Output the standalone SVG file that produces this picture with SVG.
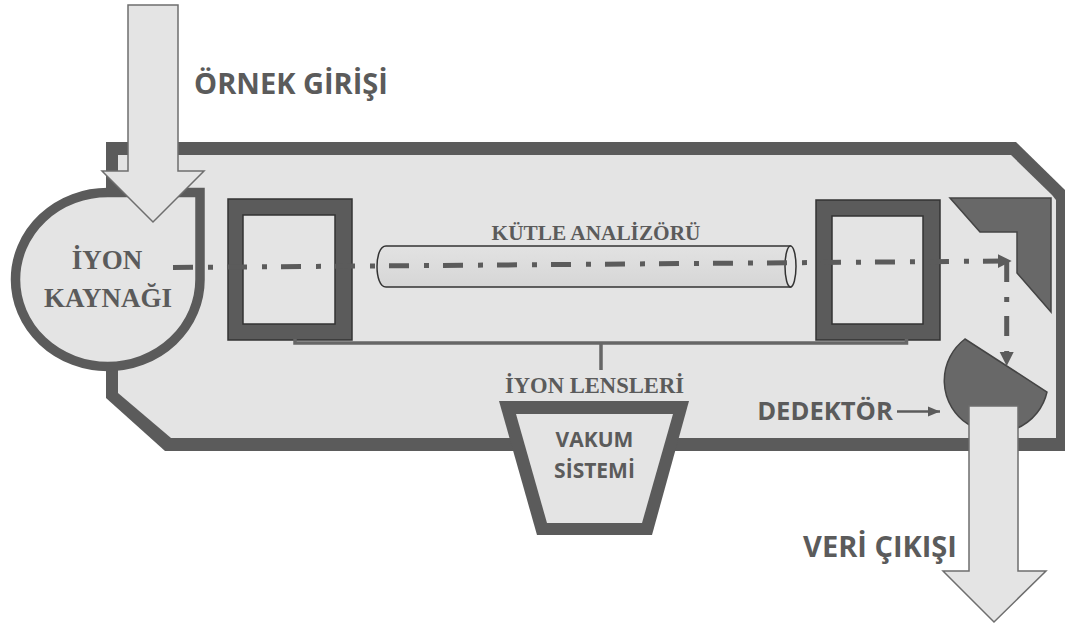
<svg xmlns="http://www.w3.org/2000/svg" width="1065" height="625" viewBox="0 0 1065 625">
<style>
.w{fill:#e4e4e4;stroke:#5b5b5b;stroke-linejoin:miter}
.box{fill:#5b5b5b;stroke:#333;stroke-width:1.5}
.in{fill:#e4e4e4;stroke:#333;stroke-width:1.5}
.ar{fill:#e4e4e4;stroke:#6e6e6e;stroke-width:1.5}
.dk{fill:#686868;stroke:#444;stroke-width:1.5}
.s{font-family:"Liberation Serif",serif;font-weight:bold;fill:#5b5b5b;text-anchor:middle}
.a{font-family:"Open Sans","Liberation Sans",sans-serif;font-weight:bold;fill:#5b5b5b;text-anchor:middle}
.c{fill:none;stroke:#5b5b5b;stroke-width:5}
</style>
<defs>
<marker id="h" markerUnits="userSpaceOnUse" markerWidth="16" markerHeight="16" refX="14" refY="8" orient="auto"><path d="M0 1L14 8L0 15Z" fill="#5b5b5b"/></marker>
<marker id="h2" markerUnits="userSpaceOnUse" markerWidth="14" markerHeight="12" refX="12" refY="6" orient="auto"><path d="M0 1L12 6L0 11Z" fill="#5b5b5b"/></marker>
<linearGradient id="tube" x1="0" y1="0" x2="0" y2="1"><stop offset="0" stop-color="#e2e2e2"/><stop offset="1" stop-color="#d6d6d6"/></linearGradient>
</defs>
<g id="body"><path d="M106 142H1016L1065 190V451H165L106 398Z" fill="#5b5b5b"/><path d="M118 155H1011L1052 195L1056 200V438H171L118 393Z" fill="#e4e4e4"/></g>
<g id="ion-source"><path class="w" stroke-width="9.500" d="M200 192.500V279.500A92.250 87 0 1 1 107.750 192.500Z"/><text class="s" x="107" y="269" font-size="27">İYON</text><text class="s" x="108" y="307" font-size="27">KAYNAĞI</text></g>
<g id="sample-in"><path class="ar" d="M128 5H178V171H204L153 222L102 171H128Z"/><text class="a" x="291" y="94" font-size="29">ÖRNEK GİRİŞİ</text></g>
<g id="lens-left"><rect class="box" x="228" y="199" width="124" height="141"/><rect class="in" x="243" y="215" width="92" height="109"/></g>
<g id="lens-right"><rect class="box" x="816" y="200" width="124" height="140"/><rect class="in" x="832" y="216" width="91" height="108"/></g>
<g id="analyzer"><path d="M386 246H790.500V287H386C380 287 377 277 377 266.500C377 256 380 246 386 246Z" fill="url(#tube)" stroke="#333" stroke-width="1.500"/><ellipse cx="790.500" cy="266.500" rx="5.500" ry="20.500" fill="#e4e4e4" stroke="#333" stroke-width="1.500"/><text class="s" x="596" y="240" font-size="21.300">KÜTLE ANALİZÖRÜ</text></g>
<g id="ion-lenses"><path d="M295 339V343H906.500V339M601 343V370" fill="none" stroke="#666" stroke-width="3.500"/><text class="s" x="594.500" y="393" font-size="23" textLength="179" lengthAdjust="spacingAndGlyphs">İYON LENSLERİ</text></g>
<g id="vacum"><path d="M499 401H689L652 535H537Z" fill="#5b5b5b"/><path d="M516 414H673L642 523H547Z" fill="#e4e4e4"/><text class="a" x="594.500" y="447" font-size="21">VAKUM</text><text class="a" x="594.500" y="478" font-size="21">SİSTEMİ</text></g>
<g id="mirror"><path class="dk" d="M950 198H1051V312L1017 273V232H980Z"/></g>
<g id="detector"><path class="dk" d="M965 339A52 52 0 1 0 1047 392Z"/><text class="a" x="825" y="420" font-size="25.600">DEDEKTÖR</text></g>
<g id="data-out"><path class="ar" d="M969 406H1018V571H1046L994 622L943 571H969Z"/><text class="a" x="880" y="557" font-size="29">VERİ ÇIKIŞI</text></g>
<g id="connectors">
<path class="c" stroke-dasharray="20 15 5 14" d="M173 267.500L1011.700 261" marker-end="url(#h)"/>
<path class="c" stroke-dasharray="20 15 5 14" d="M1006.700 262V366" marker-end="url(#h)"/>
<path fill="none" stroke="#5b5b5b" stroke-width="2.500" d="M897 411.500H940" marker-end="url(#h2)"/>
</g>
</svg>
